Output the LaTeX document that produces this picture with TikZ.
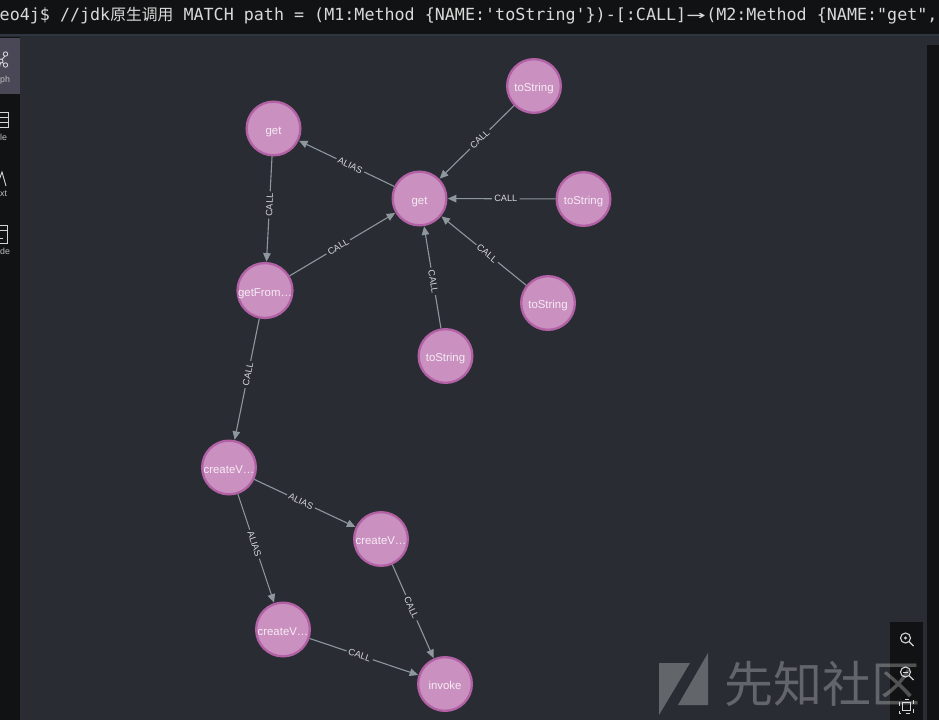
\documentclass[tikz,border=0pt]{standalone}
\usepackage{fontspec}
\usetikzlibrary{arrows.meta,shapes.geometric}
\setmainfont{Liberation Sans}
\newfontfamily\cjkfont{Noto Sans CJK SC}
\newfontfamily\monofont{DejaVu Sans Mono}
\definecolor{canvasbg}{HTML}{292C33}
\definecolor{panelbk}{HTML}{111213}
\definecolor{barline}{HTML}{2F3640}
\definecolor{activetab}{HTML}{4A4856}
\definecolor{nodefill}{HTML}{C990C0}
\definecolor{nodeline}{HTML}{B261A5}
\definecolor{edgecol}{HTML}{8E979E}
\definecolor{labelcol}{HTML}{D8D9DB}
\definecolor{nodetext}{HTML}{F7ECF5}
\definecolor{cmdtext}{HTML}{D9D9D9}
\definecolor{iconcol}{HTML}{D4D4D6}
\tikzset{
  x=1pt,y=-1pt,
  method/.style={circle,draw=nodeline,fill=nodefill,line width=2.3pt,minimum size=53.7pt,inner sep=0pt,
    text=nodetext,font=\fontsize{11.4}{12}\selectfont,text height=11.5pt,text depth=0pt},
  edge/.style={draw=edgecol,line width=1.1pt,-{Triangle[length=8.5pt,width=7.5pt,fill=edgecol]},shorten >=0.3pt},
  elabel/.style={sloped,fill=canvasbg,text=labelcol,inner sep=2.2pt,font=\fontsize{9.2}{10}\selectfont,pos=0.46},
  icon/.style={draw=iconcol,line width=0.9pt},
  sidetext/.style={text=iconcol!90!black,font=\fontsize{8.8}{10}\selectfont,inner sep=0pt,anchor=west},
  mark wm/.style={fill=white,fill opacity=0.27,draw=none},
}
\begin{document}
\begin{tikzpicture}
\useasboundingbox (0,0) rectangle (939,720);
% backgrounds
\fill[canvasbg] (0,0) rectangle (939,720);
\fill[panelbk] (0,0) rectangle (939,34);
\fill[barline] (0,34) rectangle (939,36);
\fill[panelbk] (0,37) rectangle (20,720);
\fill[activetab] (0,38) rectangle (20,94);
\fill[panelbk] (927,45) rectangle (939,720);
\fill[panelbk] (890,622) rectangle (923,720);
% command line
\begin{scope}
\clip (0,0) rectangle (939,34);
\node[anchor=base west,inner sep=0pt,text=cmdtext,font=\fontsize{16.7}{20}\monofont] (cmd) at (-0.5,20)
 {eo4j\$ //jdk{\cjkfont\fontsize{15.8}{20}\selectfont 原生调用} MATCH path = (M1:Method \{NAME:'toString'\})-[:CALL]\makebox[20pt]{\scalebox{1.9}[1]{→}}(M2:Method \{NAME:"get",};
\end{scope}
% sidebar icons
\begin{scope}
\clip (0,38) rectangle (20,260);
\draw[icon] (1,61) -- (6,54.5) (1,61) -- (5,65) (1,61) -- (-1,69);
\draw[icon,fill=activetab] (5.5,54) circle (2.2) (5.5,65) circle (2.2) (1,61) circle (2);
\draw[icon] (-6,112) rectangle (8,127) (-6,117) -- (8,117) (-6,122) -- (8,122);
\draw[icon] (-3,186) -- (2,172) -- (6,186);
\draw[icon] (-6,225) rectangle (7,243) (-6,230) -- (7,230) (-2,238) -- (3,238);
\end{scope}
\node[sidetext] (tabg) at (0,80) {ph};
\node[sidetext] (tabt) at (0,137.5) {le};
\node[sidetext] (tabx) at (0,194) {xt};
\node[sidetext] (tabc) at (0,251.5) {de};
% graph nodes
\node[method] (get1) at (273.5,128.5) {get};
\node[method] (get2) at (419.5,198.5) {get};
\node[method] (ts1) at (534,86) {toString};
\node[method] (ts2) at (583.5,199) {toString};
\node[method] (ts3) at (548,303) {toString};
\node[method] (ts4) at (445.5,356) {toString};
\node[method] (gf) at (265,290.5) {getFrom…};
\node[method] (cv1) at (229,467.5) {createV…};
\node[method] (cv2) at (381,539) {createV…};
\node[method] (cv3) at (283,629.5) {createV…};
\node[method] (inv) at (445,684) {invoke};
% edges
\draw[edge] (get2) -- node[elabel]{ALIAS} (get1);
\draw[edge] (get1) -- node[elabel]{CALL} (gf);
\draw[edge] (gf) -- node[elabel]{CALL} (get2);
\draw[edge] (ts1) -- node[elabel]{CALL} (get2);
\draw[edge] (ts2) -- node[elabel]{CALL} (get2);
\draw[edge] (ts3) -- node[elabel]{CALL} (get2);
\draw[edge] (ts4) -- node[elabel]{CALL} (get2);
\draw[edge] (gf) -- node[elabel]{CALL} (cv1);
\draw[edge] (cv1) -- node[elabel]{ALIAS} (cv2);
\draw[edge] (cv1) -- node[elabel]{ALIAS} (cv3);
\draw[edge] (cv2) -- node[elabel]{CALL} (inv);
\draw[edge] (cv3) -- node[elabel]{CALL} (inv);
% zoom tools
\draw[icon,line width=1.1pt] (905.5,638) circle (5);
\draw[icon,line width=1.3pt] (909.2,641.7) -- (913.5,646);
\fill[iconcol] (905.5,638) circle (1.6);
\draw[icon,line width=1.1pt] (905.5,672) circle (5);
\draw[icon,line width=1.3pt] (909.2,675.7) -- (913.5,680);
\draw[icon] (903,672) -- (908,672);
\draw[icon,line width=1.1pt,dash pattern=on 4pt off 5pt,dash phase=-2pt] (899.5,699.5) rectangle (913.5,713.5);
\draw[icon] (902.5,702.5) rectangle (910.5,710.5);
% watermark
\fill[mark wm] (659,663) -- (690,663) -- (659,715) -- cycle;
\fill[mark wm] (708,653) -- (708,705) -- (678,705) -- cycle;
\node[anchor=west,inner sep=0pt,text=white,text opacity=0.27,font=\fontsize{49}{52}\cjkfont] (wm) at (724,684) {先知社区};
\end{tikzpicture}
\end{document}
